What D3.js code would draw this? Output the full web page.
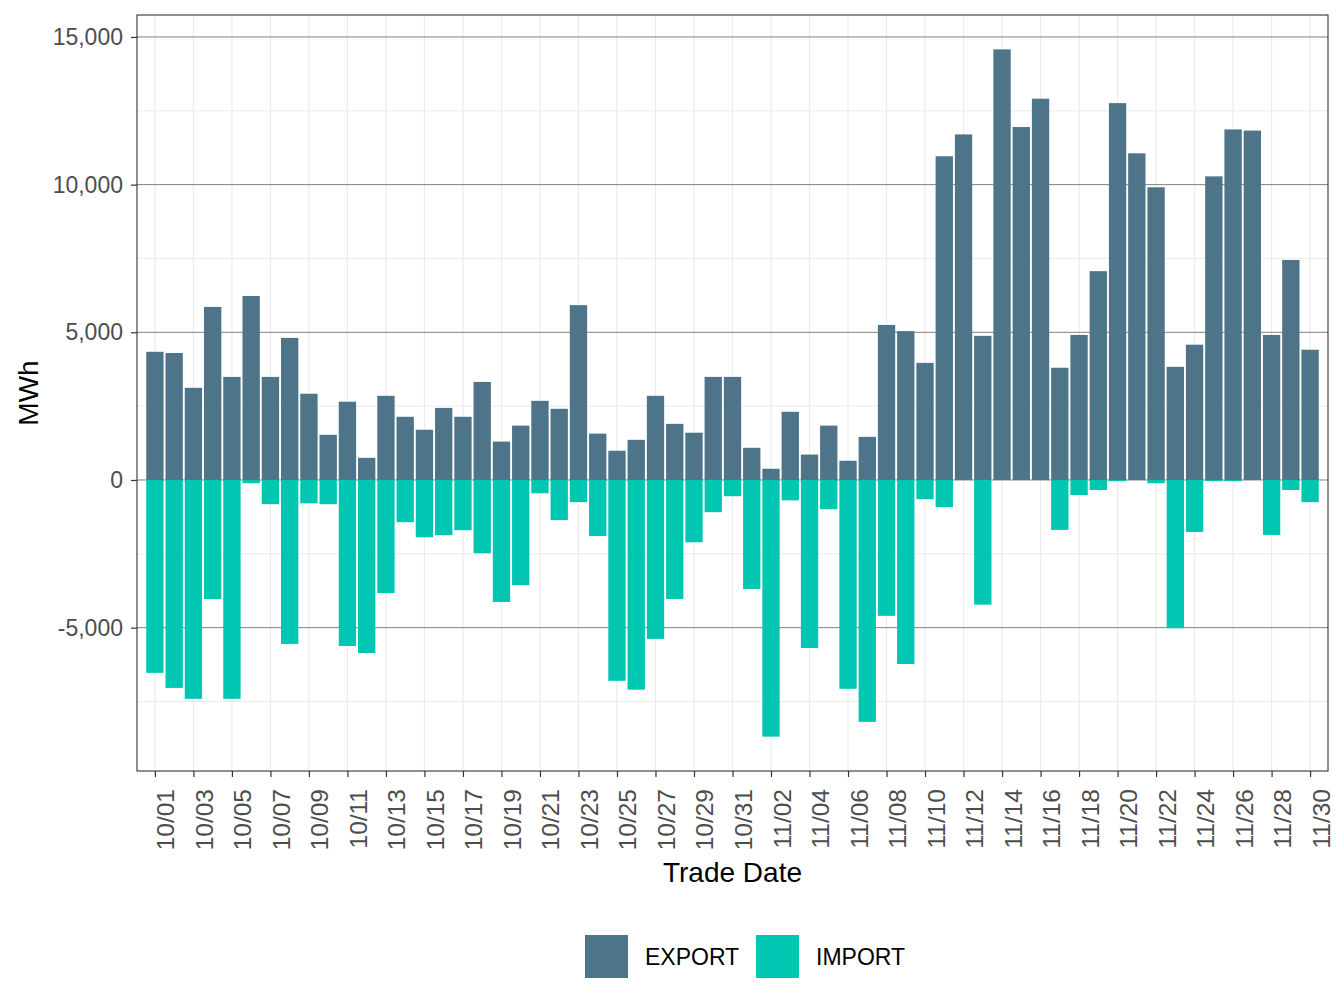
<!DOCTYPE html>
<html>
<head>
<meta charset="utf-8">
<script src="https://cdn.jsdelivr.net/npm/d3@7"></script>
<style>
  body { margin: 0; background: #fff; }
  text { font-family: "Liberation Sans", Arial, sans-serif; }
</style>
</head>
<body>
<div id="area"></div>
<script>
const dates = [
  "10/01", "10/02", "10/03", "10/04", "10/05", "10/06", "10/07", "10/08", "10/09", "10/10",
  "10/11", "10/12", "10/13", "10/14", "10/15", "10/16", "10/17", "10/18", "10/19", "10/20",
  "10/21", "10/22", "10/23", "10/24", "10/25", "10/26", "10/27", "10/28", "10/29", "10/30",
  "10/31", "11/01", "11/02", "11/03", "11/04", "11/05", "11/06", "11/07", "11/08", "11/09",
  "11/10", "11/11", "11/12", "11/13", "11/14", "11/15", "11/16", "11/17", "11/18", "11/19",
  "11/20", "11/21", "11/22", "11/23", "11/24", "11/25", "11/26", "11/27", "11/28", "11/29",
  "11/30"
];

const exportMWh = [
  4340, 4300, 3120, 5860, 3490, 6230, 3490, 4810, 2920, 1530,
  2650, 750, 2850, 2140, 1700, 2440, 2140, 3320, 1300, 1840,
  2680, 2410, 5920, 1570, 990, 1360, 2850, 1900, 1600, 3490,
  3490, 1090, 380, 2310, 860, 1840, 650, 1460, 5250, 5040,
  3965, 10960, 11700, 4880, 14580, 11950, 12910, 3800, 4910, 7070,
  12760, 11060, 9910, 3830, 4580, 10280, 11870, 11830, 4910, 7450,
  4410
];

const importMWh = [
  -6530, -7040, -7410, -4030, -7410, -110, -820, -5550, -790, -820,
  -5620, -5860, -3830, -1430, -1940, -1870, -1700, -2480, -4130, -3560,
  -450, -1360, -750, -1900, -6800, -7100, -5380, -4030, -2110, -1090,
  -550, -3690, -8690, -690, -5690, -990, -7070, -8190, -4600, -6230,
  -650, -920, 0, -4220, 0, 0, 0, -1690, -510, -340,
  -40, 0, -110, -5020, -1760, -40, -40, 0, -1860, -340,
  -750
];

const seriesNames = ["EXPORT", "IMPORT"];
const seriesColors = ["#4e7489", "#00c6b2"];
const yTicks = [-5000, 0, 5000, 10000, 15000];
const yMinor = [-7500, -2500, 2500, 7500, 12500];

const width = 1344;
const height = 1008;
const panel = { left: 137, right: 1328, top: 15, bottom: 771 };

const svg = d3
  .select("#area")
  .append("svg")
  .attr("width", width)
  .attr("height", height);

const x = d3
  .scaleLinear()
  .domain([-0.93, dates.length - 1 + 0.93])
  .range([panel.left, panel.right]);

const lo = d3.min(importMWh);
const hi = d3.max(exportMWh);
const pad = (hi - lo) * 0.05;
const y = d3
  .scaleLinear()
  .domain([lo - pad, hi + pad])
  .range([panel.bottom, panel.top]);

const barW = (x(1) - x(0)) * 0.9;
const labelIdx = d3.range(0, dates.length, 2);

// grid
const grid = svg.append("g");
grid
  .selectAll(".minor")
  .data(yMinor)
  .join("line")
  .attr("x1", panel.left)
  .attr("x2", panel.right)
  .attr("y1", (d) => y(d))
  .attr("y2", (d) => y(d))
  .attr("stroke", "#ebebeb")
  .attr("stroke-width", 1);
grid
  .selectAll(".vgrid")
  .data(labelIdx)
  .join("line")
  .attr("x1", (d) => x(d))
  .attr("x2", (d) => x(d))
  .attr("y1", panel.top)
  .attr("y2", panel.bottom)
  .attr("stroke", "#ebebeb")
  .attr("stroke-width", 1.2);
grid
  .selectAll(".major")
  .data(yTicks)
  .join("line")
  .attr("x1", panel.left)
  .attr("x2", panel.right)
  .attr("y1", (d) => y(d))
  .attr("y2", (d) => y(d))
  .attr("stroke", "#808080")
  .attr("stroke-width", 1);

// bars
[exportMWh, importMWh].forEach((vals, s) => {
  svg
    .append("g")
    .selectAll("rect")
    .data(vals)
    .join("rect")
    .attr("x", (d, i) => x(i) - barW / 2)
    .attr("width", barW)
    .attr("y", (d) => y(Math.max(0, d)))
    .attr("height", (d) => Math.abs(y(d) - y(0)))
    .attr("fill", seriesColors[s]);
});

// panel border
svg
  .append("rect")
  .attr("x", panel.left)
  .attr("y", panel.top)
  .attr("width", panel.right - panel.left)
  .attr("height", panel.bottom - panel.top)
  .attr("fill", "none")
  .attr("stroke", "#333333")
  .attr("stroke-width", 1.1);

// y axis
const yAxis = svg
  .append("g")
  .attr("transform", `translate(${panel.left}, 0)`)
  .call(
    d3.axisLeft(y)
      .tickValues(yTicks)
      .tickSize(6)
      .tickPadding(8)
      .tickFormat((d) => d3.format(",")(d).replace("−", "-"))
  );
yAxis.select(".domain").remove();
yAxis.selectAll("line").attr("stroke", "#333333").attr("stroke-width", 1.2);
yAxis
  .selectAll("text")
  .attr("fill", "#4d4d4d")
  .style("font-size", "23px")
  .style("font-family", "Liberation Sans, Arial, sans-serif");

// x axis
const xAxis = svg
  .append("g")
  .attr("transform", `translate(0, ${panel.bottom})`)
  .call(
    d3.axisBottom(x)
      .tickValues(labelIdx)
      .tickSize(6)
      .tickFormat((i) => dates[i])
  );
xAxis.select(".domain").remove();
xAxis.selectAll("line").attr("stroke", "#333333").attr("stroke-width", 1.2);
xAxis
  .selectAll("text")
  .attr("fill", "#4d4d4d")
  .style("font-size", "24.5px")
  .style("font-family", "Liberation Sans, Arial, sans-serif")
  .attr("text-anchor", "end")
  .attr("transform", "rotate(-90)")
  .attr("x", -18)
  .attr("y", 0)
  .attr("dy", 19);

// axis titles
svg
  .append("text")
  .attr("x", (panel.left + panel.right) / 2)
  .attr("y", 882)
  .attr("text-anchor", "middle")
  .style("font-size", "28px")
  .attr("fill", "#000")
  .text("Trade Date");

svg
  .append("text")
  .attr("transform", `translate(38, ${(panel.top + panel.bottom) / 2}) rotate(-90)`)
  .attr("text-anchor", "middle")
  .style("font-size", "28px")
  .attr("fill", "#000")
  .text("MWh");

// legend
const legendX = [585, 756];
const legend = svg
  .append("g")
  .selectAll("g")
  .data(seriesNames)
  .join("g")
  .attr("transform", (d, i) => `translate(${legendX[i]}, 935)`);
legend
  .append("rect")
  .attr("width", 43)
  .attr("height", 43)
  .attr("fill", (d, i) => seriesColors[i]);
legend
  .append("text")
  .attr("x", 60)
  .attr("y", 30)
  .style("font-size", "23px")
  .attr("fill", "#000")
  .text((d) => d);
</script>
</body>
</html>
